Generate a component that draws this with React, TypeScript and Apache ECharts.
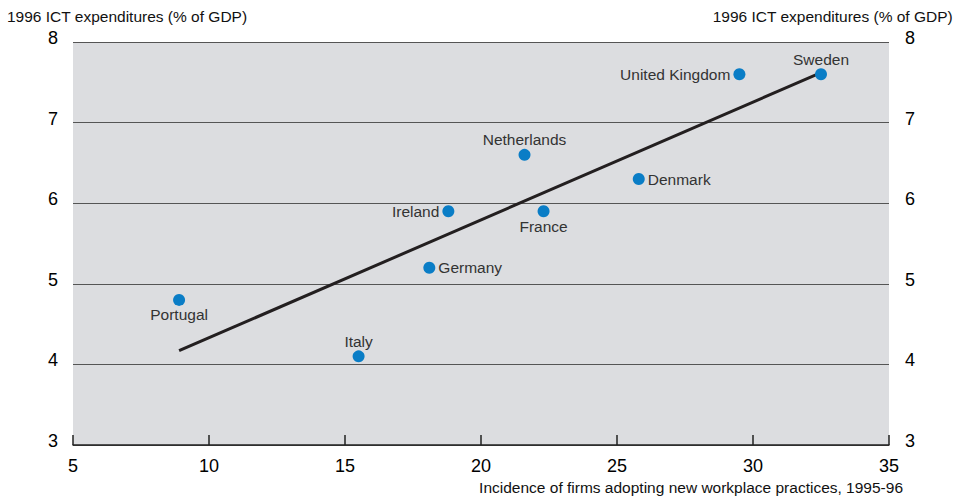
import React, { useEffect, useRef } from "react";
import * as echarts from "echarts";

const countries = ["Portugal", "Italy", "Germany", "Ireland", "Netherlands", "France", "Denmark", "United Kingdom", "Sweden"];
const workplace = [8.9, 15.5, 18.1, 18.8, 21.6, 22.3, 25.8, 29.5, 32.5];
const ict = [4.8, 4.1, 5.2, 5.9, 6.6, 5.9, 6.3, 7.6, 7.6];
const labelPos = ["bottom", "top", "right", "left", "top", "bottom", "right", "left", "top"];
const trendX = [8.9, 32.5];
const trendY = [4.17, 7.62];

const yTitle = "1996 ICT expenditures (% of GDP)";
const xTitle = "Incidence of firms adopting new workplace practices, 1995-96";

export default function App() {
  const ref = useRef<HTMLDivElement>(null);
  useEffect(() => {
    document.body.style.margin = "0";
    const chart = echarts.init(ref.current!, null, { renderer: "svg" });
    const tickFont = { fontFamily: "'Liberation Sans Narrow', 'Liberation Sans', Arial, sans-serif", fontSize: 18, color: "#000" };
    const yAxisCommon = {
      type: "value",
      min: 3,
      max: 8,
      interval: 1,
      axisLine: { show: false },
      axisTick: { show: false },
      splitLine: { show: true, lineStyle: { color: "#555", width: 1 } },
    };
    const titleStyle = { fontFamily: "'Liberation Sans', Arial, sans-serif", fontSize: 15.5, fill: "#111" };
    chart.setOption({
      animation: false,
      grid: { left: 73, right: 78, top: 42, bottom: 52, show: true, backgroundColor: "#dcdde0", borderWidth: 0 },
      xAxis: {
        type: "value",
        min: 5,
        max: 35,
        interval: 5,
        axisLine: { show: true, onZero: false, lineStyle: { color: "#222", width: 1.5 } },
        axisTick: { show: true, inside: true, length: 10, lineStyle: { color: "#222", width: 1.5 } },
        splitLine: { show: false },
        axisLabel: { ...tickFont, margin: 12 },
      },
      yAxis: [
        { ...yAxisCommon, position: "left", axisLabel: { ...tickFont, margin: 15, verticalAlign: "bottom", lineHeight: 8 } },
        { ...yAxisCommon, position: "right", axisLabel: { ...tickFont, margin: 16, verticalAlign: "bottom", lineHeight: 8 } },
      ],
      graphic: [
        { type: "text", left: 7, top: 8, style: { text: yTitle, ...titleStyle } },
        { type: "text", right: 14, top: 8, style: { text: yTitle, ...titleStyle } },
        { type: "text", right: 64, top: 479, style: { text: xTitle, ...titleStyle } },
      ],
      series: [
        {
          type: "line",
          data: trendX.map((x, i) => [x, trendY[i]]),
          symbol: "none",
          lineStyle: { color: "#231f20", width: 3 },
          z: 2,
        },
        {
          type: "scatter",
          data: countries.map((c, i) => ({
            name: c,
            value: [workplace[i], ict[i]],
            label: {
              show: true,
              position: labelPos[i],
              formatter: c,
              distance: labelPos[i] === "left" || labelPos[i] === "right" ? 3 : 1,
            },
          })),
          symbolSize: 12,
          itemStyle: { color: "#0a7dc6", opacity: 1 },
          label: { fontFamily: "'Liberation Sans', Arial, sans-serif", fontSize: 15.5, color: "#333" },
          z: 3,
        },
      ],
    });
    return () => chart.dispose();
  }, []);
  return <div ref={ref} style={{ width: 967, height: 497 }} />;
}
